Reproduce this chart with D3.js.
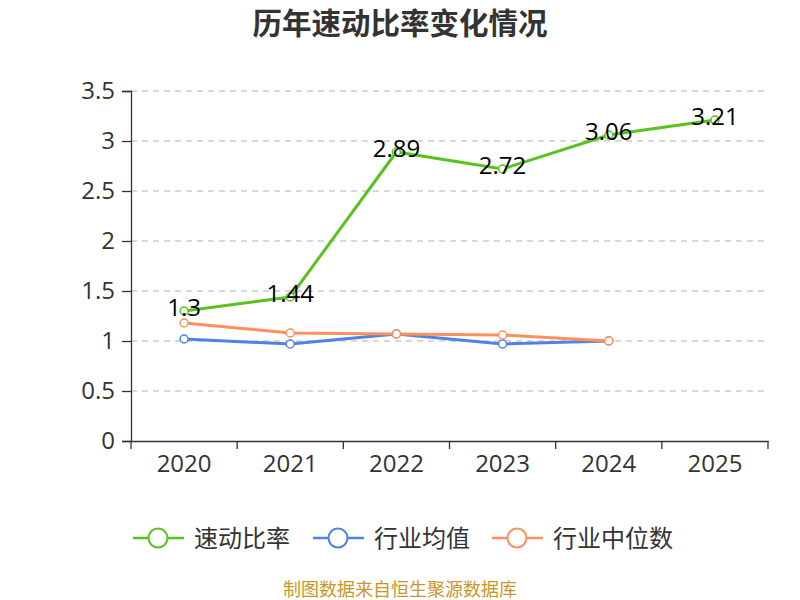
<!DOCTYPE html>
<html>
<head>
<meta charset="utf-8">
<script src="https://cdn.jsdelivr.net/npm/d3@7"></script>
<style>
  body { margin: 0; background: #fff; }
  text { font-family: "Open Sans", "Noto Sans CJK SC", sans-serif; }
</style>
</head>
<body>
<div id="chart-area"></div>
<script>
var years = ["2020", "2021", "2022", "2023", "2024", "2025"];
var quickRatio = [1.3, 1.44, 2.89, 2.72, 3.06, 3.21];
var industryMean = [1.02, 0.97, 1.07, 0.97, 1.0];
var industryMedian = [1.18, 1.08, 1.07, 1.06, 1.0];
var yTicks = [0, 0.5, 1, 1.5, 2, 2.5, 3, 3.5];
var seriesNames = ["速动比率", "行业均值", "行业中位数"];
var seriesColors = ["#5ac21f", "#4f82e3", "#ff8f5c"];

var margins = { top: 91, right: 32, bottom: 159, left: 131 },
    chartWidth = 800 - margins.left - margins.right,
    chartHeight = 600 - margins.top - margins.bottom;

var svg = d3.select("#chart-area").append("svg")
    .attr("width", 800).attr("height", 600);

svg.append("text").attr("x", 400).attr("y", 34).attr("text-anchor", "middle")
    .attr("font-size", "29.5px").attr("font-weight", "bold").attr("fill", "#333")
    .attr("font-family", "'Noto Sans CJK SC', sans-serif")
    .text("历年速动比率变化情况");

var canvas = svg.append("g").attr("transform", `translate(${margins.left},${margins.top})`);

var xScale = d3.scaleBand().domain(years).range([0, chartWidth]);
var yScale = d3.scaleLinear().domain([0, 3.5]).range([chartHeight, 0]);

// grid
canvas.append("g").selectAll("line").data(yTicks.slice(1)).enter().append("line")
    .attr("x1", 0).attr("x2", chartWidth)
    .attr("y1", d => yScale(d)).attr("y2", d => yScale(d))
    .attr("stroke", "#ccc").attr("stroke-width", 1.3).attr("stroke-dasharray", "6,5");

var yAxis = canvas.append("g").call(d3.axisLeft(yScale).tickValues(yTicks).tickSize(9).tickPadding(7).tickFormat(d => d));
yAxis.select(".domain").attr("stroke", "#333").attr("stroke-width", 1.3);
yAxis.selectAll(".tick line").attr("stroke", "#333").attr("stroke-width", 1.3);
yAxis.selectAll("text").attr("font-size", "24px").attr("fill", "#333");

var xAxis = canvas.append("g").attr("transform", `translate(0,${chartHeight})`)
    .call(d3.axisBottom(xScale).tickSize(0).tickPadding(14));
xAxis.select(".domain").attr("stroke", "#333").attr("stroke-width", 1.3);
xAxis.selectAll("text").attr("font-size", "24px").attr("fill", "#333");
xAxis.selectAll(".bt").data(d3.range(years.length + 1)).enter().append("line")
    .attr("x1", i => i * xScale.bandwidth()).attr("x2", i => i * xScale.bandwidth())
    .attr("y1", 0).attr("y2", 8).attr("stroke", "#333").attr("stroke-width", 1.3);

var allSeries = [quickRatio, industryMean, industryMedian];
var lineGen = d3.line().x((d, i) => xScale(years[i]) + xScale.bandwidth() / 2).y(d => yScale(d));

[0, 1, 2].forEach(function(s) {
    var vals = allSeries[s];
    canvas.append("path").datum(vals).attr("d", lineGen)
        .attr("fill", "none").attr("stroke", seriesColors[s]).attr("stroke-width", 3);
    canvas.selectAll(".pt" + s).data(vals).enter().append("circle")
        .attr("cx", (d, i) => xScale(years[i]) + xScale.bandwidth() / 2)
        .attr("cy", d => yScale(d)).attr("r", 4)
        .attr("fill", "#fff").attr("stroke", seriesColors[s]).attr("stroke-width", 1.5);
});

canvas.selectAll(".lbl").data(quickRatio).enter().append("text")
    .attr("x", (d, i) => xScale(years[i]) + xScale.bandwidth() / 2)
    .attr("y", d => yScale(d) + 5)
    .attr("text-anchor", "middle").attr("font-size", "24px").attr("fill", "#000")
    .text(d => d);

// legend
var legendX = [133, 313, 492];
seriesNames.forEach(function(name, i) {
    var g = svg.append("g").attr("transform", `translate(${legendX[i]},538)`);
    g.append("line").attr("x1", 0).attr("x2", 51).attr("stroke", seriesColors[i]).attr("stroke-width", 2.5);
    g.append("circle").attr("cx", 25).attr("r", 9.5).attr("fill", "#fff")
        .attr("stroke", seriesColors[i]).attr("stroke-width", 2);
    g.append("text").attr("x", 61).attr("y", 9).attr("font-size", "24px").attr("fill", "#333")
        .attr("font-family", "'Noto Sans CJK SC', sans-serif").text(name);
});

svg.append("text").attr("x", 400).attr("y", 596).attr("text-anchor", "middle")
    .attr("font-size", "18px").attr("fill", "#c9962a")
    .attr("font-family", "'Noto Sans CJK SC', sans-serif")
    .text("制图数据来自恒生聚源数据库");
</script>
</body>
</html>
